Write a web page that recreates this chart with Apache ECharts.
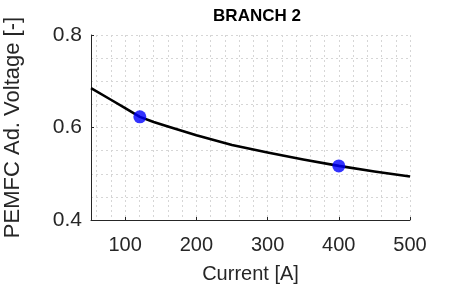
<!DOCTYPE html>
<html>
<head>
<meta charset="utf-8">
<script src="https://cdn.jsdelivr.net/npm/echarts@6/dist/echarts.min.js"></script>
<style>
  html, body { margin: 0; padding: 0; background: #fff; }
  #chart { width: 454px; height: 287px; }
</style>
</head>
<body>
<div id="chart"></div>
<script>
// polarisation curve
var currentA = [52, 80, 100, 120.6, 140, 160, 200, 250, 300, 350, 400, 450, 500];
var voltage  = [0.685, 0.660, 0.642, 0.623, 0.612, 0.602, 0.583, 0.562, 0.546, 0.531, 0.517, 0.505, 0.494];

// operating points (blue dots)
var pointX = [120.6, 400];
var pointY = [0.623, 0.517];

// x ticks and the minor grid positions
var xTicks = [100, 200, 300, 400, 500];
var xMinorGrid = [60, 80, 120, 140, 160, 180, 220, 240, 260, 280, 320, 340, 360, 380, 420, 440, 460, 480];

var textColor = '#262626';
var fontFam = '"Liberation Sans", Arial, sans-serif';
var gridLine = { color: '#d6d6d6', type: [2, 3], width: 1 };

var chart = echarts.init(document.getElementById('chart'));

function zip(a, b) {
    return a.map(function (v, i) { return [v, b[i]]; });
}

chart.setOption({
    animation: false,
    title: {
        text: 'BRANCH 2',
        left: 252,
        textAlign: 'center',
        top: 3,
        textStyle: { fontFamily: fontFam, fontSize: 17, fontWeight: 'bold', color: '#000' }
    },
    grid: { left: 91, right: 44, top: 35, bottom: 67, outerBoundsMode: 'none' },
    xAxis: [
        {
            type: 'value',
            position: 'bottom',
            min: 52,
            max: 500,
            name: 'Current [A]',
            nameLocation: 'middle',
            nameGap: 44,
            nameTextStyle: { fontFamily: fontFam, fontSize: 20, color: textColor },
            axisLine: { lineStyle: { color: '#262626', width: 1 } },
            axisTick: { inside: true, length: 3, customValues: xTicks, lineStyle: { color: '#262626' } },
            axisLabel: { fontFamily: fontFam, fontSize: 20, color: textColor, margin: 15, customValues: xTicks },
            splitLine: { show: true, lineStyle: gridLine }
        },
        {
            // only carries the minor grid lines
            type: 'value',
            position: 'top',
            min: 52,
            max: 500,
            axisLine: { show: false },
            axisTick: { show: false, customValues: xMinorGrid },
            axisLabel: { show: false },
            splitLine: { show: true, lineStyle: gridLine }
        }
    ],
    yAxis: {
        type: 'value',
        min: 0.4,
        max: 0.8,
        interval: 0.2,
        name: 'PEMFC Ad. Voltage [-]',
        nameLocation: 'middle',
        nameGap: 67,
        nameTextStyle: { fontFamily: fontFam, fontSize: 22, color: textColor },
        axisLine: { show: true, lineStyle: { color: '#262626', width: 1 } },
        axisTick: { show: true, inside: true, length: 3, lineStyle: { color: '#262626' } },
        axisLabel: {
            fontFamily: fontFam, fontSize: 21, color: textColor, margin: 9,
            formatter: function (v) { return v.toFixed(1); }
        },
        splitLine: { show: true, lineStyle: gridLine },
        minorTick: { show: false, splitNumber: 4 },
        minorSplitLine: { show: true, lineStyle: gridLine }
    },
    series: [
        {
            name: 'curve',
            type: 'line',
            xAxisIndex: 0,
            smooth: false,
            symbol: 'none',
            lineStyle: { color: '#000', width: 2.6, join: 'round' },
            data: zip(currentA, voltage),
            z: 2
        },
        {
            name: 'points',
            type: 'scatter',
            xAxisIndex: 0,
            symbol: 'circle',
            symbolSize: 13,
            itemStyle: { color: '#0000ff' },
            data: zip(pointX, pointY),
            z: 3
        }
    ]
});
</script>
</body>
</html>
